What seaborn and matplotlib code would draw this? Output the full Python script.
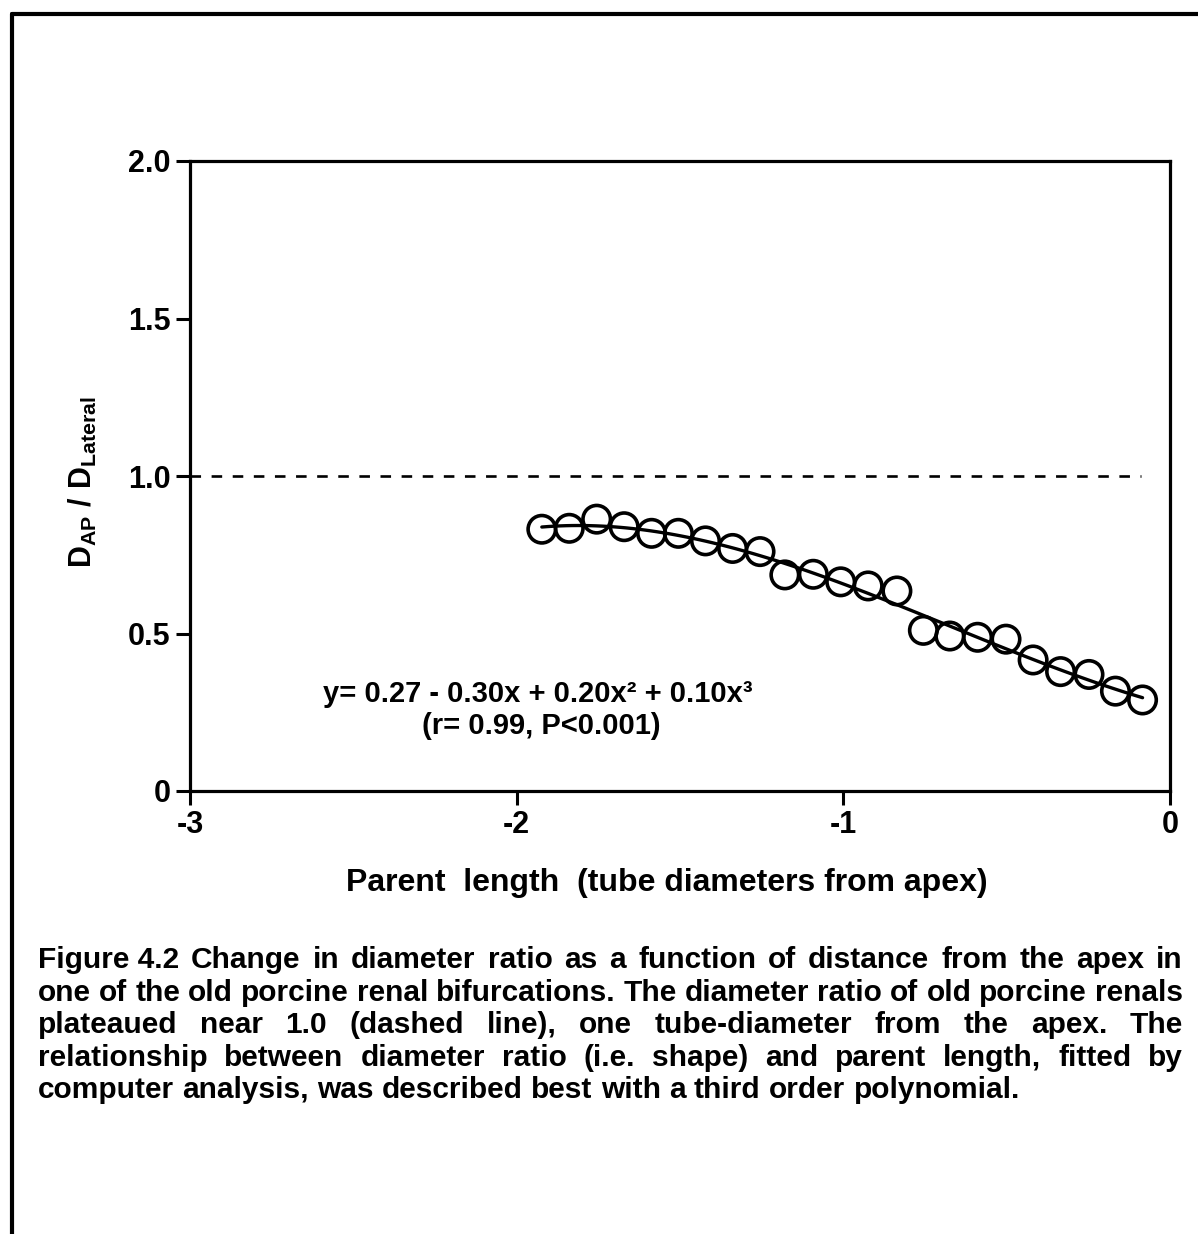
import numpy as np
import pandas as pd
import matplotlib
matplotlib.use("Agg")
import matplotlib.pyplot as plt
from matplotlib.lines import Line2D
import seaborn as sns

# ---------------- data ----------------
parent_length = [-1.923, -1.839, -1.755, -1.671, -1.587, -1.505, -1.422, -1.339,
                 -1.255, -1.179, -1.092, -1.008, -0.924, -0.836, -0.755, -0.674,
                 -0.589, -0.502, -0.419, -0.335, -0.248, -0.167, -0.084]
diameter_ratio = [0.831, 0.834, 0.863, 0.839, 0.818, 0.818, 0.794, 0.770,
                  0.760, 0.686, 0.688, 0.664, 0.651, 0.635, 0.510, 0.492,
                  0.488, 0.482, 0.416, 0.379, 0.370, 0.317, 0.289]
x_ticks = [-3, -2, -1, 0]
x_tick_labels = ["-3", "-2", "-1", "0"]
y_ticks = [0, 0.5, 1.0, 1.5, 2.0]
y_tick_labels = ["0", "0.5", "1.0", "1.5", "2.0"]
reference_ratio = 1.0
reference_span = [-3.0, -0.09]
equation_lines = ["y= 0.27 - 0.30x + 0.20x\u00b2 + 0.10x\u00b3", "(r= 0.99, P<0.001)"]
x_label = "Parent  length  (tube diameters from apex)"
y_label = r"$\mathrm{D_{AP}\ /\ D_{Lateral}}$"
caption_heading = "Figure 4.2"
caption_lines = [
    "Change in diameter ratio as a function of distance from the apex in",
    "one of the old porcine renal bifurcations.  The diameter ratio of old porcine renals",
    "plateaued near 1.0 (dashed line), one tube-diameter from the apex.  The",
    "relationship between diameter ratio (i.e. shape) and parent length, fitted by",
    "computer analysis, was described best with a third order polynomial.",
]

df = pd.DataFrame({"parent_length": parent_length, "diameter_ratio": diameter_ratio})

# ---------------- style ----------------
sns.set_style("ticks")
plt.rcParams["font.family"] = ["Liberation Sans", "DejaVu Sans"]
plt.rcParams["font.weight"] = "bold"
plt.rcParams["axes.unicode_minus"] = False
plt.rcParams["mathtext.fontset"] = "custom"
plt.rcParams["mathtext.rm"] = "Liberation Sans:bold"
plt.rcParams["mathtext.it"] = "Liberation Sans:bold"
plt.rcParams["mathtext.bf"] = "Liberation Sans:bold"

W_PX, H_PX = 1198, 1234
fig = plt.figure(figsize=(W_PX / 100, H_PX / 100), dpi=100)
fig.patch.set_facecolor("white")

ax_left, ax_right, ax_top, ax_bottom = 190, 1170, 161, 791
ax = fig.add_axes([ax_left / W_PX, 1 - ax_bottom / H_PX,
                   (ax_right - ax_left) / W_PX, (ax_bottom - ax_top) / H_PX])

sns.regplot(data=df, x="parent_length", y="diameter_ratio", order=3, ci=None,
            color="black", ax=ax,
            scatter_kws=dict(s=390, facecolors="none", edgecolors="black",
                             linewidths=2.6, alpha=1, zorder=3),
            line_kws=dict(color="black", lw=2.4, zorder=4))

ax.hlines(reference_ratio, reference_span[0], reference_span[1], colors="black",
          linestyles=(0, (4, 4)), lw=1.9, zorder=2)

ax.set_xlim(-3, 0)
ax.set_ylim(0, 2.0)
ax.set_xticks(x_ticks)
ax.set_xticklabels(x_tick_labels)
ax.set_yticks(y_ticks)
ax.set_yticklabels(y_tick_labels)
ax.tick_params(axis="both", direction="out", length=10, width=2.2, color="black",
               labelsize=22, pad=4, labelcolor="black")
for lab in ax.get_xticklabels() + ax.get_yticklabels():
    lab.set_fontweight("bold")
for side in ["left", "bottom", "top", "right"]:
    ax.spines[side].set_visible(True)
    ax.spines[side].set_linewidth(2.3)
    ax.spines[side].set_color("black")

ax.set_xlabel(x_label, fontsize=23, fontweight="bold", color="black")
ax.xaxis.set_label_coords(0.487, -0.122)
ax.set_ylabel(y_label, fontsize=22, color="black")
ax.yaxis.set_label_coords(-0.093, 0.49)

ax.text(-2.593, 0.308, equation_lines[0], fontsize=21, fontweight="bold",
        ha="left", va="center", color="black")
ax.text(-2.29, 0.206, equation_lines[1], fontsize=21, fontweight="bold",
        ha="left", va="center", color="black")

# ---------------- page frame (top and left edges) ----------------
fx = 12 / W_PX
fy = 1 - 14 / H_PX
fig.add_artist(Line2D([fx, 1.0], [fy, fy], transform=fig.transFigure,
                      color="black", lw=3))
fig.add_artist(Line2D([fx, fx], [0.0, fy], transform=fig.transFigure,
                      color="black", lw=3))

# ---------------- justified caption ----------------
renderer = fig.canvas.get_renderer()
cap_size = 21.5
cap_x0, cap_x1 = 38, 1183
baselines = [968, 1001, 1033, 1066, 1098]


def place_line(words, weights, baseline_px, justify):
    texts = [fig.text(0, 1 - baseline_px / H_PX, w, fontsize=cap_size,
                      fontweight=wt, ha="left", va="baseline", color="black")
             for w, wt in zip(words, weights)]
    widths = [t.get_window_extent(renderer).width for t in texts]
    space = 0.278 * cap_size * 100 / 72
    if justify and len(words) > 1:
        gap = ((cap_x1 - cap_x0) - sum(widths)) / (len(words) - 1)
        gap = max(gap, space * 0.6)
    else:
        gap = space
    x = cap_x0
    for t, w in zip(texts, widths):
        t.set_x(x / W_PX)
        x += w + gap


for i, line in enumerate(caption_lines):
    words = line.split()
    weights = ["bold"] * len(words)
    if i == 0:
        words = [caption_heading] + words
        weights = ["heavy"] + weights
    place_line(words, weights, baselines[i], justify=(i < len(caption_lines) - 1))

fig.savefig("out.png", dpi=100, facecolor="white")
